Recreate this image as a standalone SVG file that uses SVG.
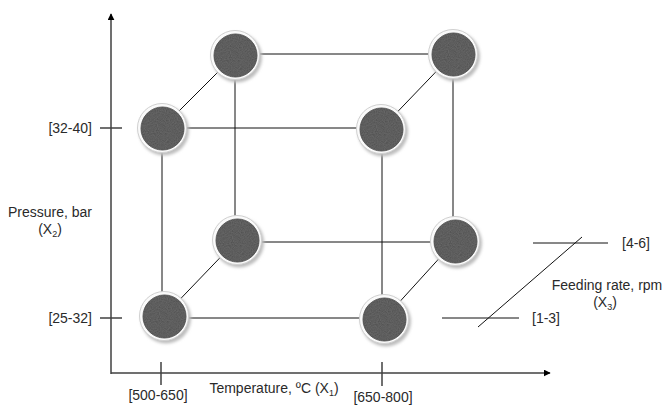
<svg xmlns="http://www.w3.org/2000/svg" width="671" height="405" viewBox="0 0 671 405">
  <style>
    .axis { stroke: #404040; stroke-width: 1.5; fill: none; }
    .edge { stroke: #111; stroke-width: 1; fill: none; }
    .lbl { font-family: "Liberation Sans", Arial, sans-serif; font-size: 14px; fill: #2a2a2a; }
    .sub { font-size: 9px; }
  </style>
  <defs>
    <marker id="arrow" viewBox="0 0 10 10" refX="9" refY="5" markerWidth="7" markerHeight="7" markerUnits="userSpaceOnUse" orient="auto">
      <path d="M0,0 L10,5 L0,10 z" fill="#000"/>
    </marker>
    <filter id="grain" x="-10%" y="-10%" width="120%" height="120%">
      <feTurbulence type="fractalNoise" baseFrequency="0.9" numOctaves="2" seed="3" result="noise"/>
      <feColorMatrix in="noise" type="matrix" values="0 0 0 0 0.25  0 0 0 0 0.25  0 0 0 0 0.25  0 0 0 0.4 0" result="tint"/>
      <feComposite in="tint" in2="SourceGraphic" operator="in" result="dots"/>
      <feMerge><feMergeNode in="SourceGraphic"/><feMergeNode in="dots"/></feMerge>
    </filter>
    <filter id="soft" x="-30%" y="-30%" width="160%" height="160%">
      <feGaussianBlur stdDeviation="1.5"/>
    </filter>
    <g id="ball">
      <circle cx="2" cy="2.5" r="25" fill="#bdbdbd" filter="url(#soft)"/>
      <circle cx="0" cy="0" r="24.5" fill="#fafafa" stroke="#d0d0d0" stroke-width="1"/>
      <circle cx="0.5" cy="0.5" r="21.5" fill="#4f4f4f" stroke="#333" stroke-width="0.8" filter="url(#grain)"/>
    </g>
  </defs>

  <!-- axes -->
  <g id="axes">
    <line class="axis" x1="111" y1="374" x2="111" y2="14" marker-end="url(#arrow)"/>
    <line class="axis" x1="111" y1="373" x2="550" y2="373" marker-end="url(#arrow)"/>
    <line class="axis" x1="100" y1="128" x2="122" y2="128"/>
    <line class="axis" x1="100" y1="318" x2="122" y2="318"/>
    <line class="axis" x1="161" y1="362" x2="161" y2="385"/>
    <line class="axis" x1="382" y1="362" x2="382" y2="386"/>
  </g>

  <!-- connectors: cube edges and feeding-rate scale -->
  <g id="connectors">
    <line class="edge" x1="162" y1="128" x2="381" y2="128"/>
    <line class="edge" x1="235" y1="54" x2="453" y2="54"/>
    <line class="edge" x1="237" y1="242" x2="455" y2="242"/>
    <line class="edge" x1="164" y1="318" x2="384" y2="318"/>
    <line class="edge" x1="162" y1="128" x2="162" y2="316"/>
    <line class="edge" x1="235" y1="55" x2="235" y2="240"/>
    <line class="edge" x1="382" y1="129" x2="382" y2="319"/>
    <line class="edge" x1="453" y1="54" x2="453" y2="241"/>
    <line class="edge" x1="162" y1="128" x2="235" y2="55"/>
    <line class="edge" x1="381" y1="129" x2="453" y2="54"/>
    <line class="edge" x1="164" y1="316" x2="237" y2="240"/>
    <line class="edge" x1="384" y1="319" x2="455" y2="241"/>
    <line class="edge" x1="533" y1="243" x2="608" y2="243"/>
    <line class="edge" x1="442" y1="318" x2="519" y2="318"/>
    <line class="edge" x1="478" y1="327" x2="582" y2="237"/>
  </g>

  <!-- cube vertices -->
  <g id="n-front-top-left"><use href="#ball" x="162" y="128"/></g>
  <g id="n-front-top-right"><use href="#ball" x="381" y="129"/></g>
  <g id="n-back-top-left"><use href="#ball" x="235" y="55"/></g>
  <g id="n-back-top-right"><use href="#ball" x="453" y="54"/></g>
  <g id="n-back-bottom-left"><use href="#ball" x="237" y="240"/></g>
  <g id="n-back-bottom-right"><use href="#ball" x="455" y="241"/></g>
  <g id="n-front-bottom-left"><use href="#ball" x="164" y="316"/></g>
  <g id="n-front-bottom-right"><use href="#ball" x="384" y="319"/></g>

  <!-- labels -->
  <g id="labels">
    <text class="lbl" x="92" y="133" text-anchor="end">[32-40]</text>
    <text class="lbl" x="92" y="323" text-anchor="end">[25-32]</text>
    <text class="lbl" x="50" y="217" text-anchor="middle">Pressure, bar</text>
    <text class="lbl" x="50" y="234" text-anchor="middle">(X<tspan class="sub" dy="3">2</tspan><tspan dy="-3">)</tspan></text>
    <text class="lbl" x="158" y="400" text-anchor="middle">[500-650]</text>
    <text class="lbl" x="383" y="402" text-anchor="middle">[650-800]</text>
    <text class="lbl" x="274" y="393" text-anchor="middle">Temperature, ºC (X<tspan class="sub" dy="3">1</tspan><tspan dy="-3">)</tspan></text>
    <text class="lbl" x="622" y="248">[4-6]</text>
    <text class="lbl" x="532" y="323">[1-3]</text>
    <text class="lbl" x="607" y="290" text-anchor="middle">Feeding rate, rpm</text>
    <text class="lbl" x="605" y="307" text-anchor="middle">(X<tspan class="sub" dy="3">3</tspan><tspan dy="-3">)</tspan></text>
  </g>
</svg>
